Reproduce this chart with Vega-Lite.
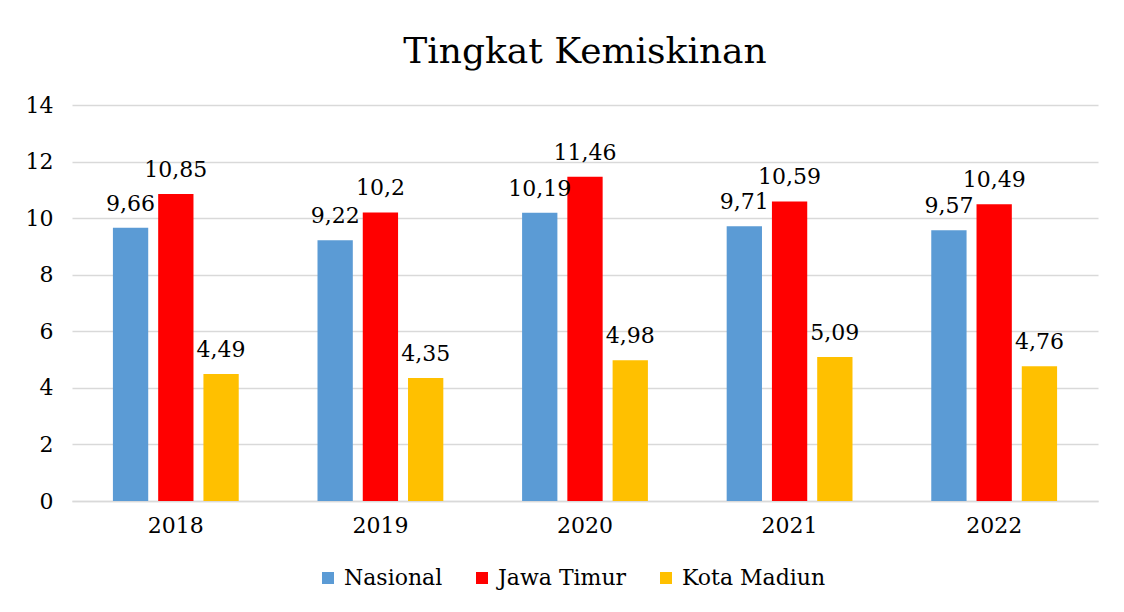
{
  "$schema": "https://vega.github.io/schema/vega-lite/v6.json",
  "width": 1026,
  "height": 396,
  "autosize": {"type": "none"},
  "padding": {"left": 72, "top": 105, "right": 26, "bottom": 111},
  "background": "white",
  "title": {"text": "Tingkat Kemiskinan", "font": "DejaVu Serif", "fontSize": 36, "fontWeight": "normal", "color": "#000000", "offset": 23, "anchor": "middle"},
  "data": {"values": [
    {"tahun": "2018", "wilayah": "Nasional", "nilai": 9.66, "label": "9,66"},
    {"tahun": "2018", "wilayah": "Jawa Timur", "nilai": 10.85, "label": "10,85"},
    {"tahun": "2018", "wilayah": "Kota Madiun", "nilai": 4.49, "label": "4,49"},
    {"tahun": "2019", "wilayah": "Nasional", "nilai": 9.22, "label": "9,22"},
    {"tahun": "2019", "wilayah": "Jawa Timur", "nilai": 10.2, "label": "10,2"},
    {"tahun": "2019", "wilayah": "Kota Madiun", "nilai": 4.35, "label": "4,35"},
    {"tahun": "2020", "wilayah": "Nasional", "nilai": 10.19, "label": "10,19"},
    {"tahun": "2020", "wilayah": "Jawa Timur", "nilai": 11.46, "label": "11,46"},
    {"tahun": "2020", "wilayah": "Kota Madiun", "nilai": 4.98, "label": "4,98"},
    {"tahun": "2021", "wilayah": "Nasional", "nilai": 9.71, "label": "9,71"},
    {"tahun": "2021", "wilayah": "Jawa Timur", "nilai": 10.59, "label": "10,59"},
    {"tahun": "2021", "wilayah": "Kota Madiun", "nilai": 5.09, "label": "5,09"},
    {"tahun": "2022", "wilayah": "Nasional", "nilai": 9.57, "label": "9,57"},
    {"tahun": "2022", "wilayah": "Jawa Timur", "nilai": 10.49, "label": "10,49"},
    {"tahun": "2022", "wilayah": "Kota Madiun", "nilai": 4.76, "label": "4,76"}
  ]},
  "encoding": {
    "x": {"field": "tahun", "type": "nominal", "title": null,
      "scale": {"paddingInner": 0.385, "paddingOuter": 0.2},
      "axis": {"labelAngle": 0, "labelFont": "DejaVu Serif", "labelFontSize": 22, "labelColor": "#000000", "labelPadding": 14, "ticks": false, "domainColor": "#d9d9d9", "domainWidth": 1.5}},
    "xOffset": {"field": "wilayah", "type": "nominal", "sort": ["Nasional", "Jawa Timur", "Kota Madiun"], "scale": {"paddingInner": 0.22}},
    "y": {"field": "nilai", "type": "quantitative", "title": null,
      "scale": {"domain": [0, 14]},
      "axis": {"values": [0, 2, 4, 6, 8, 10, 12, 14], "labelFont": "DejaVu Serif", "labelFontSize": 22, "labelColor": "#000000", "labelPadding": 19, "ticks": false, "domain": false, "gridColor": "#d9d9d9", "gridWidth": 1.5}}
  },
  "layer": [
    {
      "mark": {"type": "bar"},
      "encoding": {
        "color": {"field": "wilayah", "type": "nominal", "sort": ["Nasional", "Jawa Timur", "Kota Madiun"],
          "scale": {"domain": ["Nasional", "Jawa Timur", "Kota Madiun"], "range": ["#5b9bd5", "#ff0000", "#ffc000"]},
          "legend": {"orient": "none", "legendX": 245, "legendY": 462, "direction": "horizontal", "title": null, "symbolType": "square", "symbolSize": 144, "symbolStrokeWidth": 0, "labelFont": "DejaVu Serif", "labelFontSize": 22, "labelColor": "#000000", "columnPadding": 28, "symbolOffset": 0, "labelOffset": 5}}
      }
    },
    {
      "mark": {"type": "text", "font": "DejaVu Serif", "fontSize": 22, "color": "#000000", "baseline": "alphabetic", "dy": -17},
      "encoding": {"text": {"field": "label"}}
    }
  ],
  "config": {"view": {"stroke": null}}
}
